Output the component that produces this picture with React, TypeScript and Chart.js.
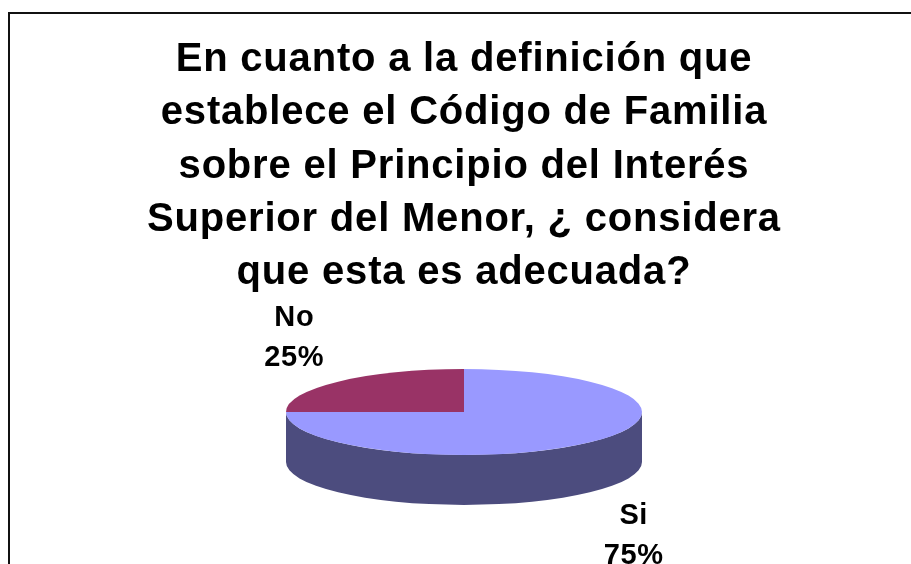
import React, { useEffect, useRef } from "react";
import { Chart, registerables } from "chart.js";

Chart.register(...registerables);

const categories = ["Si", "No"];
const values = [75, 25];
const topColors = ["#9999FF", "#993366"];
const sideColors = ["#4C4C7E", "#4C1933"];
const titleLines = [
  "En cuanto a la definición que",
  "establece el Código de Familia",
  "sobre el Principio del Interés",
  "Superior del Menor, ¿ considera",
  "que esta es adecuada?",
];

const FONT = "'Liberation Sans', Arial, Helvetica, sans-serif";
const TILT = 0.241;
const DEPTH = 50;
const LABEL_OFF = 62;
const LABEL_SIZE = 29;
const LABEL_LINE = 40;

const pie3d = {
  id: "pie3d",
  beforeDraw(chart: any) {
    (chart.ctx as any).letterSpacing = "0.8px";
  },
  beforeDatasetDraw(chart: any, args: any) {
    const arcs = args.meta.data;
    if (!arcs.length) return;
    const { x, y, outerRadius } = arcs[0];
    const ctx = chart.ctx;
    const ca = chart.chartArea;
    const rx = outerRadius;
    const ry = outerRadius * TILT;
    const cy = (ca.top + ca.bottom) / 2 - DEPTH / 2;
    arcs.forEach((arc: any, i: number) => {
      for (const shift of [-2 * Math.PI, 0, 2 * Math.PI]) {
        const a1 = Math.max(arc.startAngle + shift, 0);
        const a2 = Math.min(arc.endAngle + shift, Math.PI);
        if (a2 <= a1) continue;
        ctx.beginPath();
        ctx.ellipse(x, cy, rx, ry, 0, a1, a2);
        ctx.ellipse(x, cy + DEPTH, rx, ry, 0, a2, a1, true);
        ctx.closePath();
        ctx.fillStyle = sideColors[i];
        ctx.fill();
      }
    });
    ctx.save();
    ctx.translate(x, cy);
    ctx.scale(1, TILT);
    ctx.translate(-x, -y);
  },
  afterDatasetDraw(chart: any) {
    chart.ctx.restore();
  },
  afterDatasetsDraw(chart: any) {
    const meta = chart.getDatasetMeta(0);
    const arcs = meta.data;
    if (!arcs.length) return;
    const ctx = chart.ctx;
    const ca = chart.chartArea;
    const { x, outerRadius } = arcs[0];
    const rx = outerRadius;
    const ry = outerRadius * TILT;
    const cy = (ca.top + ca.bottom) / 2 - DEPTH / 2;
    const total = values.reduce((a, b) => a + b, 0);
    ctx.save();
    (ctx as any).letterSpacing = "0.6px";
    ctx.font = `bold ${LABEL_SIZE}px ${FONT}`;
    ctx.fillStyle = "#000";
    ctx.textAlign = "center";
    ctx.textBaseline = "middle";
    arcs.forEach((arc: any, i: number) => {
      const m = (arc.startAngle + arc.endAngle) / 2;
      const lx = x + Math.cos(m) * (rx + LABEL_OFF);
      const ly = cy + Math.sin(m) * (ry + LABEL_OFF) + (Math.sin(m) > 0 ? DEPTH : 0);
      const pct = Math.round((values[i] / total) * 100) + "%";
      ctx.fillText(categories[i], lx, ly - LABEL_LINE / 2);
      ctx.fillText(pct, lx, ly + LABEL_LINE / 2);
    });
    ctx.restore();
  },
};

export default function App() {
  const ref = useRef<HTMLCanvasElement>(null);
  useEffect(() => {
    if (!ref.current) return;
    const chart = new Chart(ref.current, {
      type: "pie",
      data: {
        labels: categories,
        datasets: [
          {
            data: values,
            backgroundColor: topColors,
            borderWidth: 0,
            radius: 178,
            clip: false,
          } as any,
        ],
      },
      options: {
        responsive: false,
        animation: false,
        layout: { padding: { left: 17, right: 0, top: 0, bottom: 0 } },
        plugins: {
          legend: { display: false },
          tooltip: { enabled: false },
          title: {
            display: true,
            text: titleLines,
            color: "#000",
            font: { family: FONT, size: 40, weight: "bold", lineHeight: 1.335 },
            padding: { top: 33, bottom: 10 },
          },
        },
      } as any,
      plugins: [pie3d],
    });
    return () => chart.destroy();
  }, []);
  return (
    <div
      style={{
        position: "fixed",
        left: 0,
        top: 0,
        width: 911,
        height: 564,
        overflow: "hidden",
        background: "#fff",
      }}
    >
      <div
        style={{
          position: "absolute",
          left: 8,
          top: 12,
          width: 1000,
          height: 1000,
          border: "2px solid #111",
          boxSizing: "border-box",
        }}
      />
      <canvas ref={ref} width={911} height={564} style={{ position: "absolute", left: 0, top: 0 }} />
    </div>
  );
}
